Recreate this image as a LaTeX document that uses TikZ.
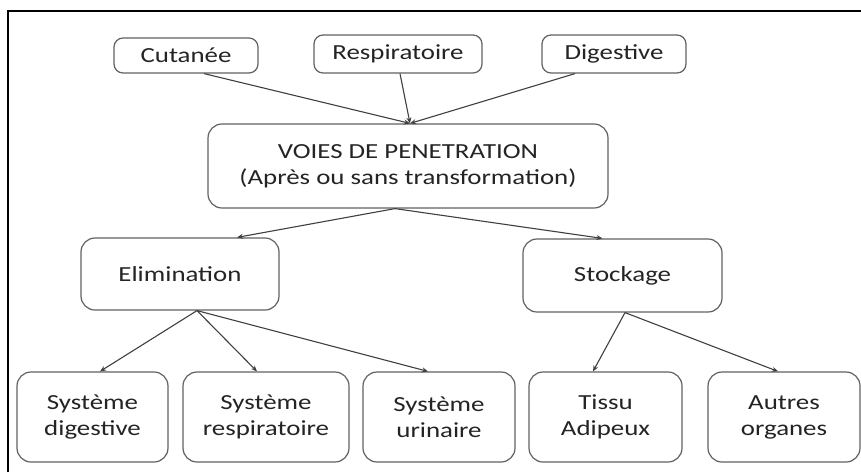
\documentclass[tikz,border=0pt]{standalone}
\usepackage{fontspec}
\setmainfont{Carlito}[FakeStretch=1.25]
\usetikzlibrary{calc,arrows.meta}
\begin{document}
\begin{tikzpicture}[x=1pt,y=-1pt,
  box/.style={draw=black!62,line width=1.2pt,rounded corners=9pt,align=center,
    inner sep=0pt,text=black!86,font=\fontsize{21.5}{26}\selectfont},
  bigbox/.style={box,rounded corners=14pt},
  arr/.style={draw=black!75,line width=1.1pt,-{Stealth[length=6pt,width=5pt]}}]
\useasboundingbox[fill=white] (0,0) rectangle (861,472);
\draw[line width=2pt,black] (8,472) -- (8,11) -- (861,11);
% top row
\node[box,minimum width=144pt,minimum height=35pt] (cut) at (186,55.5) {Cutanée};
\node[box,minimum width=168pt,minimum height=38pt] (resp) at (398,54) {Respiratoire};
\node[box,minimum width=144pt,minimum height=38pt] (dig) at (614,54) {Digestive};
% middle
\node[bigbox,minimum width=400pt,minimum height=84pt] (voies) at (408,166)
  {VOIES DE PENETRATION\\(Après ou sans transformation)};
\node[bigbox,minimum width=198pt,minimum height=72pt] (elim) at (180,274) {Elimination};
\node[bigbox,minimum width=199pt,minimum height=73pt] (stock) at (622.5,275.5) {Stockage};
% bottom row
\node[bigbox,minimum width=151pt,minimum height=90pt] (sdig) at (92.5,417) {Système\\digestive};
\node[bigbox,minimum width=166pt,minimum height=90pt] (sresp) at (266,417) {Système\\respiratoire};
\node[bigbox,minimum width=152pt,minimum height=90pt] (surin) at (439,417) {Système\\urinaire};
\node[bigbox,minimum width=153pt,minimum height=90pt] (tissu) at (605.5,417) {Tissu\\Adipeux};
\node[bigbox,minimum width=152pt,minimum height=90pt] (autres) at (784,417) {Autres\\organes};
% connectors
\draw[arr] ($(cut.south)+(18,0)$) -- ($(voies.north)+(2,0)$);
\draw[arr] ($(resp.south)+(2,0)$) -- ($(voies.north)+(2,0)$);
\draw[arr] ($(dig.south)+(-39,0)$) -- ($(voies.north)+(2,0)$);
\draw[arr] ($(voies.south)+(-13,0)$) -- ($(elim.north)+(57,0)$);
\draw[arr] ($(voies.south)+(-13,0)$) -- ($(stock.north)+(-20,0)$);
\draw[arr] ($(elim.south)+(17,0)$) -- ($(sdig.north)+(7.5,0)$);
\draw[arr] ($(elim.south)+(17,0)$) -- ($(sresp.north)+(-9,0)$);
\draw[arr] ($(elim.south)+(17,0)$) -- ($(surin.north)+(-11,0)$);
\draw[arr] ($(stock.south)+(2.5,0)$) -- ($(tissu.north)+(-12.5,0)$);
\draw[arr] ($(stock.south)+(2.5,0)$) -- ($(autres.north)+(-6,0)$);
\end{tikzpicture}
\end{document}
